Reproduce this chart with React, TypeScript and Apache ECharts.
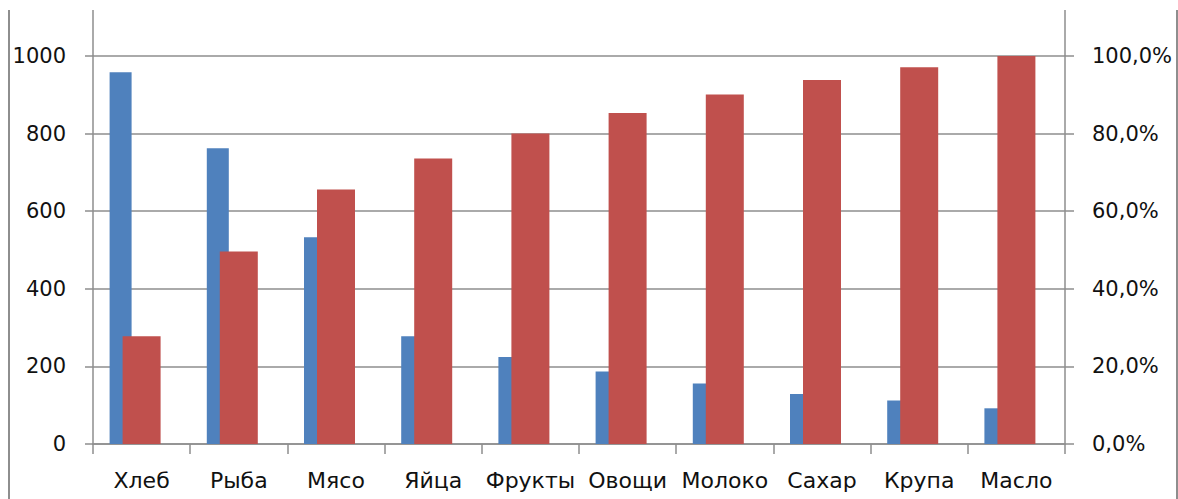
import React, { useEffect, useRef } from "react";
import * as echarts from "echarts";

const categories = ["Хлеб", "Рыба", "Мясо", "Яйца", "Фрукты", "Овощи", "Молоко", "Сахар", "Крупа", "Масло"];
const amounts = [958, 762, 533, 278, 224, 187, 156, 129, 112, 92];
const cumulativePercent = [27.8, 49.6, 65.6, 73.6, 80.0, 85.3, 90.1, 93.8, 97.1, 100.0];

const GRAY = "#8e8e8e";
const FONT = "DejaVu Sans";

export default function App() {
  const ref = useRef<HTMLDivElement>(null);

  useEffect(() => {
    if (!ref.current) return;
    const chart = echarts.init(ref.current, null, { renderer: "svg" });
    const labelStyle = { color: "#111", fontFamily: FONT, fontSize: 21 };
    chart.setOption({
      animation: false,
      backgroundColor: "#ffffff",
      grid: { left: 93, right: 113, top: 56, bottom: 55, containLabel: false },
      xAxis: [
        {
          type: "category",
          data: categories,
          axisLine: { show: true, lineStyle: { color: GRAY, width: 1.5 } },
          axisTick: { show: true, length: 10, lineStyle: { color: GRAY, width: 1.5 } },
          axisLabel: { ...labelStyle, fontSize: 22, margin: 25, interval: 0 },
          splitLine: { show: false },
        },
        {
          type: "category",
          data: categories,
          show: false,
        },
      ],
      yAxis: [
        {
          type: "value",
          min: 0,
          max: 1000,
          interval: 200,
          position: "left",
          axisLine: { show: true, lineStyle: { color: GRAY, width: 1.5 } },
          axisTick: { show: true, length: 8, lineStyle: { color: GRAY, width: 1.5 } },
          axisLabel: { ...labelStyle, margin: 27, formatter: (v: number) => String(v) },
          splitLine: { show: true, lineStyle: { color: GRAY, width: 1.5 } },
        },
        {
          type: "value",
          min: 0,
          max: 100,
          interval: 20,
          position: "right",
          axisLine: { show: true, lineStyle: { color: GRAY, width: 1.5 } },
          axisTick: { show: true, length: 9, lineStyle: { color: GRAY, width: 1.5 } },
          axisLabel: {
            ...labelStyle,
            margin: 27,
            formatter: (v: number) => v.toFixed(1).replace(".", ",") + "%",
          },
          splitLine: { show: false },
        },
      ],
      graphic: [
        { type: "line", shape: { x1: 93, y1: 10, x2: 93, y2: 56 }, style: { stroke: GRAY, lineWidth: 1.5 } },
        { type: "line", shape: { x1: 1065, y1: 10, x2: 1065, y2: 56 }, style: { stroke: GRAY, lineWidth: 1.5 } },
        { type: "line", shape: { x1: 9, y1: 10, x2: 9, y2: 499 }, style: { stroke: GRAY, lineWidth: 2 } },
        { type: "line", shape: { x1: 1177, y1: 10, x2: 1177, y2: 499 }, style: { stroke: GRAY, lineWidth: 2 } },
      ],
      series: [
        {
          name: "Количество",
          type: "bar",
          xAxisIndex: 0,
          yAxisIndex: 0,
          data: amounts,
          barWidth: 22,
          barGap: "0%",
          itemStyle: { color: "#4F81BD" },
        },
        {
          name: "spacer",
          type: "bar",
          xAxisIndex: 0,
          yAxisIndex: 0,
          data: [],
          barWidth: 42,
          barGap: "0%",
          silent: true,
          itemStyle: { color: "transparent" },
        },
        {
          name: "Накопленный %",
          type: "bar",
          xAxisIndex: 1,
          yAxisIndex: 1,
          data: cumulativePercent,
          barWidth: 38,
          itemStyle: { color: "#C0504D" },
        },
      ],
    });
    return () => chart.dispose();
  }, []);

  return (
    <div
      ref={ref}
      style={{ position: "fixed", left: 0, top: 0, width: 1178, height: 499, background: "#fff" }}
    />
  );
}
